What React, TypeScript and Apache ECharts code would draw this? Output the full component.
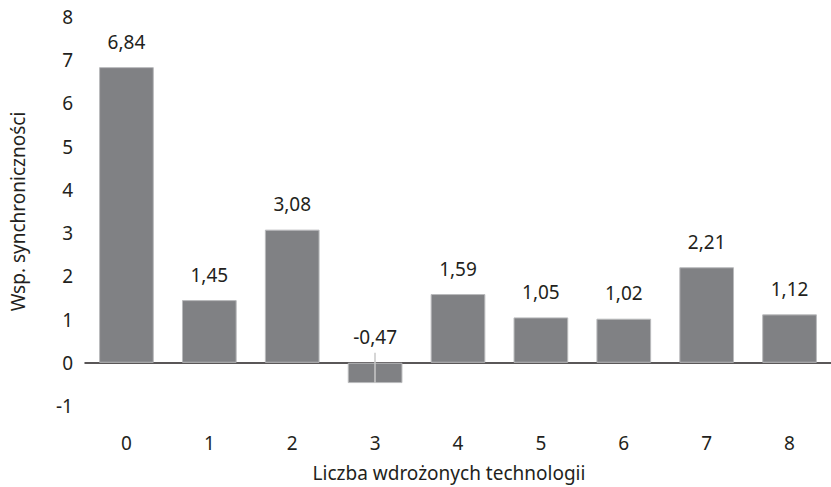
import React, { useEffect, useRef } from "react";
import * as echarts from "echarts";

const categories = ["0", "1", "2", "3", "4", "5", "6", "7", "8"];
const values = [6.84, 1.45, 3.08, -0.47, 1.59, 1.05, 1.02, 2.21, 1.12];
// thin guide line drawn through the negative bar
const guideCategory = 3;
const guideRange = [0.23, -0.47];

const FONT = "'Noto Sans', sans-serif";
const TEXT = "#231f20";

export default function App() {
  const ref = useRef<HTMLDivElement>(null);

  useEffect(() => {
    document.body.style.margin = "0";
    if (!ref.current) return;
    const chart = echarts.init(ref.current, undefined, { renderer: "svg" });
    chart.setOption({
      animation: false,
      backgroundColor: "#ffffff",
      textStyle: { fontFamily: FONT, color: TEXT },
      grid: { left: 85, right: -7, top: 17, bottom: 35, containLabel: false },
      xAxis: {
        type: "category",
        data: categories,
        name: "Liczba wdrożonych technologii",
        nameLocation: "middle",
        nameGap: 57,
        nameTextStyle: {
          fontFamily: FONT,
          fontSize: 19,
          color: TEXT,
          padding: [0, 18, 0, 0],
        },
        axisLine: { onZero: true, lineStyle: { color: TEXT, width: 1.5 } },
        axisTick: { show: false },
        axisLabel: { margin: 27, fontFamily: FONT, fontSize: 19, color: TEXT },
      },
      yAxis: {
        type: "value",
        min: -1,
        max: 8,
        interval: 1,
        name: "Wsp. synchroniczności",
        nameLocation: "middle",
        nameGap: 58,
        nameTextStyle: { fontFamily: FONT, fontSize: 19, color: TEXT },
        splitLine: { show: false },
        axisLine: { show: false },
        axisTick: { show: false },
        axisLabel: { margin: 12, fontFamily: FONT, fontSize: 19, color: TEXT },
      },
      series: [
        {
          type: "bar",
          data: values,
          barCategoryGap: "34%",
          itemStyle: { color: "#808184", borderColor: "#b9babc", borderWidth: 1 },
          label: {
            show: true,
            position: "top",
            distance: 16,
            fontFamily: FONT,
            fontSize: 19,
            color: TEXT,
            formatter: (p: any) => p.value.toFixed(2).replace(".", ","),
          },
          markLine: {
            silent: true,
            symbol: "none",
            label: { show: false },
            lineStyle: { color: "#c9c9c9", width: 1.5, type: "solid" },
            data: [
              [
                { coord: [guideCategory, guideRange[0]] },
                { coord: [guideCategory, guideRange[1]] },
              ],
            ],
          },
        },
      ],
    });
    return () => chart.dispose();
  }, []);

  return <div ref={ref} style={{ width: 831, height: 487 }} />;
}
